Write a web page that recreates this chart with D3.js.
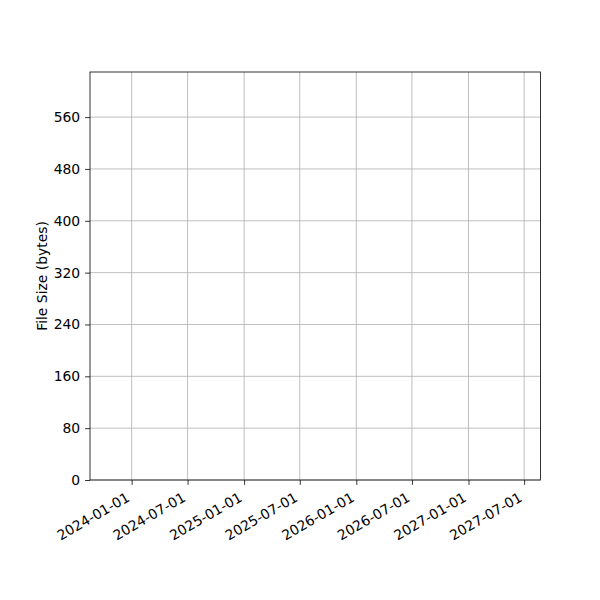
<!DOCTYPE html>
<html><head><meta charset="utf-8">
<script src="https://cdn.jsdelivr.net/npm/d3@7"></script>
<style>body{margin:0;background:#fff}svg{display:block}text{font-family:"DejaVu Sans",sans-serif}</style>
</head><body>
<svg id="c" width="600" height="600"></svg>
<script>
const xDomain = ["2023-08-18T14:00:00", "2027-08-23T06:00:00"];
const xTicks = ["2024-01-01","2024-07-01","2025-01-01","2025-07-01","2026-01-01","2026-07-01","2027-01-01","2027-07-01"];
const yDomain = [0, 629.6];
const yTicks = [0,80,160,240,320,400,480,560];
const yLabel = "File Size (bytes)";
const sizes = [];
const dates = [];

const svg = d3.select("#c");
const L=90,R=540.5,T=72,B=480;
const FS = "13.9px";
const parse = s => new Date(s + (s.length===10 ? "T00:00:00" : ""));
const x = d3.scaleTime().domain(xDomain.map(parse)).range([L,R]);
const y = d3.scaleLinear().domain(yDomain).range([B,T]);

svg.append("rect").attr("x",0).attr("y",0).attr("width",600).attr("height",600).attr("fill","#fff");
const g = svg.append("g");
g.selectAll(".gx").data(xTicks).join("line")
  .attr("x1",d=>x(parse(d))).attr("x2",d=>x(parse(d))).attr("y1",T).attr("y2",B)
  .attr("stroke","#b0b0b0").attr("stroke-width",0.8);
g.selectAll(".gy").data(yTicks).join("line")
  .attr("y1",d=>y(d)).attr("y2",d=>y(d)).attr("x1",L).attr("x2",R)
  .attr("stroke","#b0b0b0").attr("stroke-width",0.8);

g.selectAll("circle.pt").data(sizes).join("circle")
  .attr("cx",(d,i)=>x(parse(dates[i]))).attr("cy",d=>y(d)).attr("r",3);

const fmt = d3.timeFormat("%Y-%m-%d");
const xAxis = d3.axisBottom(x).tickValues(xTicks.map(parse)).tickFormat(fmt).tickSize(4.9).tickPadding(4.9);
const xa = svg.append("g").attr("transform",`translate(0,${B})`).call(xAxis);
xa.select(".domain").remove();
xa.selectAll(".tick line").attr("stroke","#000").attr("stroke-width",0.8);
xa.selectAll(".tick text").attr("font-size",FS).attr("fill","#000")
  .attr("text-anchor","end").attr("dy",null).attr("y",0)
  .attr("transform","translate(-3.5,16.8) rotate(-30)")
  .attr("dominant-baseline","middle");

const yAxis = d3.axisLeft(y).tickValues(yTicks).tickSize(4.9).tickPadding(4.9);
const ya = svg.append("g").attr("transform",`translate(${L},0)`).call(yAxis);
ya.select(".domain").remove();
ya.selectAll(".tick line").attr("stroke","#000").attr("stroke-width",0.8);
ya.selectAll(".tick text").attr("font-size",FS).attr("fill","#000");

svg.append("rect").attr("x",L).attr("y",T).attr("width",R-L).attr("height",B-T)
  .attr("fill","none").attr("stroke","#000").attr("stroke-width",0.8);

svg.append("text").attr("transform",`translate(46.5,${(T+B)/2}) rotate(-90)`)
  .attr("text-anchor","middle").attr("font-size",FS).attr("fill","#000").text(yLabel);
</script>
</body></html>
